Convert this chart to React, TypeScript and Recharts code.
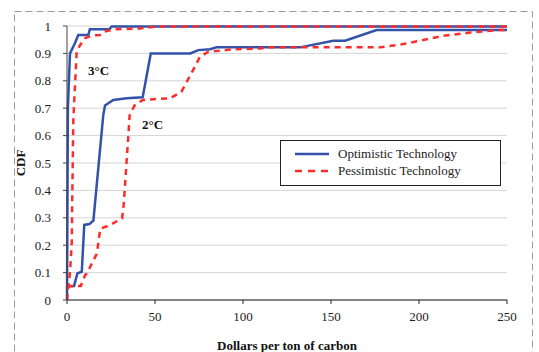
import { LineChart, Line, XAxis, YAxis, CartesianGrid, ReferenceDot } from 'recharts';

// [dollars per ton of carbon, CDF]
const opt3C = [
  [0, 0], [0.5, 0.7], [1.7, 0.9], [4.5, 0.937], [6.4, 0.967], [12.1, 0.967], [13, 0.988],
  [24, 0.988], [25.4, 0.998], [250, 0.998],
];
const pess3C = [
  [0, 0], [0.8, 0.05], [1.7, 0.1], [2.7, 0.21], [2.9, 0.33], [3.6, 0.66], [5.5, 0.906],
  [7.4, 0.93], [10.2, 0.955], [14, 0.965], [18.8, 0.967], [21.6, 0.98], [26.3, 0.988],
  [39.6, 0.99], [51, 0.998], [250, 0.998],
];
const opt2C = [
  [0.7, 0.051], [4, 0.051], [5.9, 0.097], [8.4, 0.103], [9.8, 0.274], [12.7, 0.277],
  [15, 0.29], [20.6, 0.675], [21.6, 0.71], [26.3, 0.73], [33.9, 0.736], [43, 0.74],
  [47.6, 0.9], [70, 0.9], [74.6, 0.912], [81.3, 0.915], [85, 0.922], [132.4, 0.922],
  [151.3, 0.946], [158, 0.946], [175.9, 0.985], [250, 0.985],
];
const pess2C = [
  [0, 0.05], [7.8, 0.051], [10.3, 0.091], [11.3, 0.097], [17, 0.17], [17.8, 0.21],
  [18.9, 0.26], [24.6, 0.274], [31.3, 0.298], [32.2, 0.347], [35, 0.614], [35.6, 0.675],
  [38.4, 0.71], [43, 0.73], [51, 0.734], [58.5, 0.736], [65, 0.76], [71.7, 0.84],
  [75.6, 0.888], [80.3, 0.906], [94.5, 0.915], [109.7, 0.918], [115, 0.922], [178, 0.922],
  [191, 0.934], [213.8, 0.964], [229, 0.976], [244, 0.985], [250, 0.985],
];

const xTicks = [0, 50, 100, 150, 200, 250];
const yTicks = [0, 0.1, 0.2, 0.3, 0.4, 0.5, 0.6, 0.7, 0.8, 0.9, 1];
const legendItems = ['Optimistic Technology', 'Pessimistic Technology'];
const notes = [
  { x: 17.9, y: 0.839, text: '3°C' },
  { x: 48.6, y: 0.641, text: '2°C' },
];

const BLUE = '#3352aa';
const RED = '#ff2a2a';
const SERIF = 'Times New Roman, Liberation Serif, Times, serif';

const toPts = (arr: number[][]) => arr.map(([x, y]) => ({ x, y }));
const fmtY = (v: number) => (v === 0 || v === 1 ? String(v) : v.toFixed(1));

const tickStyle = { fill: '#222', fontSize: 13, fontFamily: SERIF };

export default function App() {
  return (
    <div style={{ position: 'absolute', left: 0, top: 0, width: 539, height: 352, background: '#fff', overflow: 'hidden', fontFamily: SERIF }}>
      <svg width={539} height={352} style={{ position: 'absolute', left: 0, top: 0 }}>
        <rect x={14.5} y={11.5} width={518} height={400} fill="none" stroke="#9a9a9a" strokeDasharray="7 4" />
      </svg>
      <div style={{ position: 'absolute', left: 0, top: 0 }}>
        <LineChart width={539} height={352} margin={{ top: 26, right: 32, bottom: 0, left: 0 }}>
          <CartesianGrid stroke="#d4d4d4" vertical={false} />
          <XAxis
            type="number" dataKey="x" domain={[0, 250]} ticks={xTicks} height={52}
            tick={tickStyle} tickSize={4} tickMargin={8} axisLine={{ stroke: '#222' }} tickLine={{ stroke: '#222' }}
            label={{ value: 'Dollars per ton of carbon', position: 'insideBottom', offset: 2, fontFamily: SERIF, fontWeight: 700, fontSize: 13, fill: '#111' }}
          />
          <YAxis
            type="number" domain={[0, 1]} ticks={yTicks} width={67} tickFormatter={fmtY}
            tick={tickStyle} tickSize={4} tickMargin={12} axisLine={{ stroke: '#444' }} tickLine={{ stroke: '#444' }}
            label={{ value: 'CDF', angle: -90, position: 'insideLeft', offset: 20, fontFamily: SERIF, fontWeight: 700, fontSize: 13, fill: '#111', style: { textAnchor: 'middle' } }}
          />
          <Line data={toPts(opt3C)} dataKey="y" type="linear" stroke={BLUE} strokeWidth={2.5} dot={false} isAnimationActive={false} />
          <Line data={toPts(opt2C)} dataKey="y" type="linear" stroke={BLUE} strokeWidth={2.5} dot={false} isAnimationActive={false} />
          <Line data={toPts(pess3C)} dataKey="y" type="linear" stroke={RED} strokeWidth={2.5} strokeDasharray="6 5" dot={false} isAnimationActive={false} />
          <Line data={toPts(pess2C)} dataKey="y" type="linear" stroke={RED} strokeWidth={2.5} strokeDasharray="6 5" dot={false} isAnimationActive={false} />
          {notes.map((n) => (
            <ReferenceDot
              key={n.text} x={n.x} y={n.y} r={0.01} fill="none" stroke="none"
              label={{ value: n.text, position: 'center', fontFamily: SERIF, fontWeight: 700, fontSize: 13, fill: '#111' }}
            />
          ))}
        </LineChart>
      </div>
      <div style={{ position: 'absolute', left: 280, top: 140, width: 219, height: 44, border: '1px solid #222', background: '#fff', fontSize: 13, color: '#222' }}>
        {legendItems.map((name, i) => (
          <div key={name} style={{ position: 'absolute', left: 14, top: 5 + i * 17, height: 16, display: 'flex', alignItems: 'center' }}>
            <svg width={34} height={6} style={{ marginRight: 9 }}>
              <line x1={0} y1={3} x2={34} y2={3} stroke={i === 0 ? BLUE : RED} strokeWidth={2.5} strokeDasharray={i === 0 ? undefined : '7 6'} />
            </svg>
            <span>{name}</span>
          </div>
        ))}
      </div>
    </div>
  );
}
